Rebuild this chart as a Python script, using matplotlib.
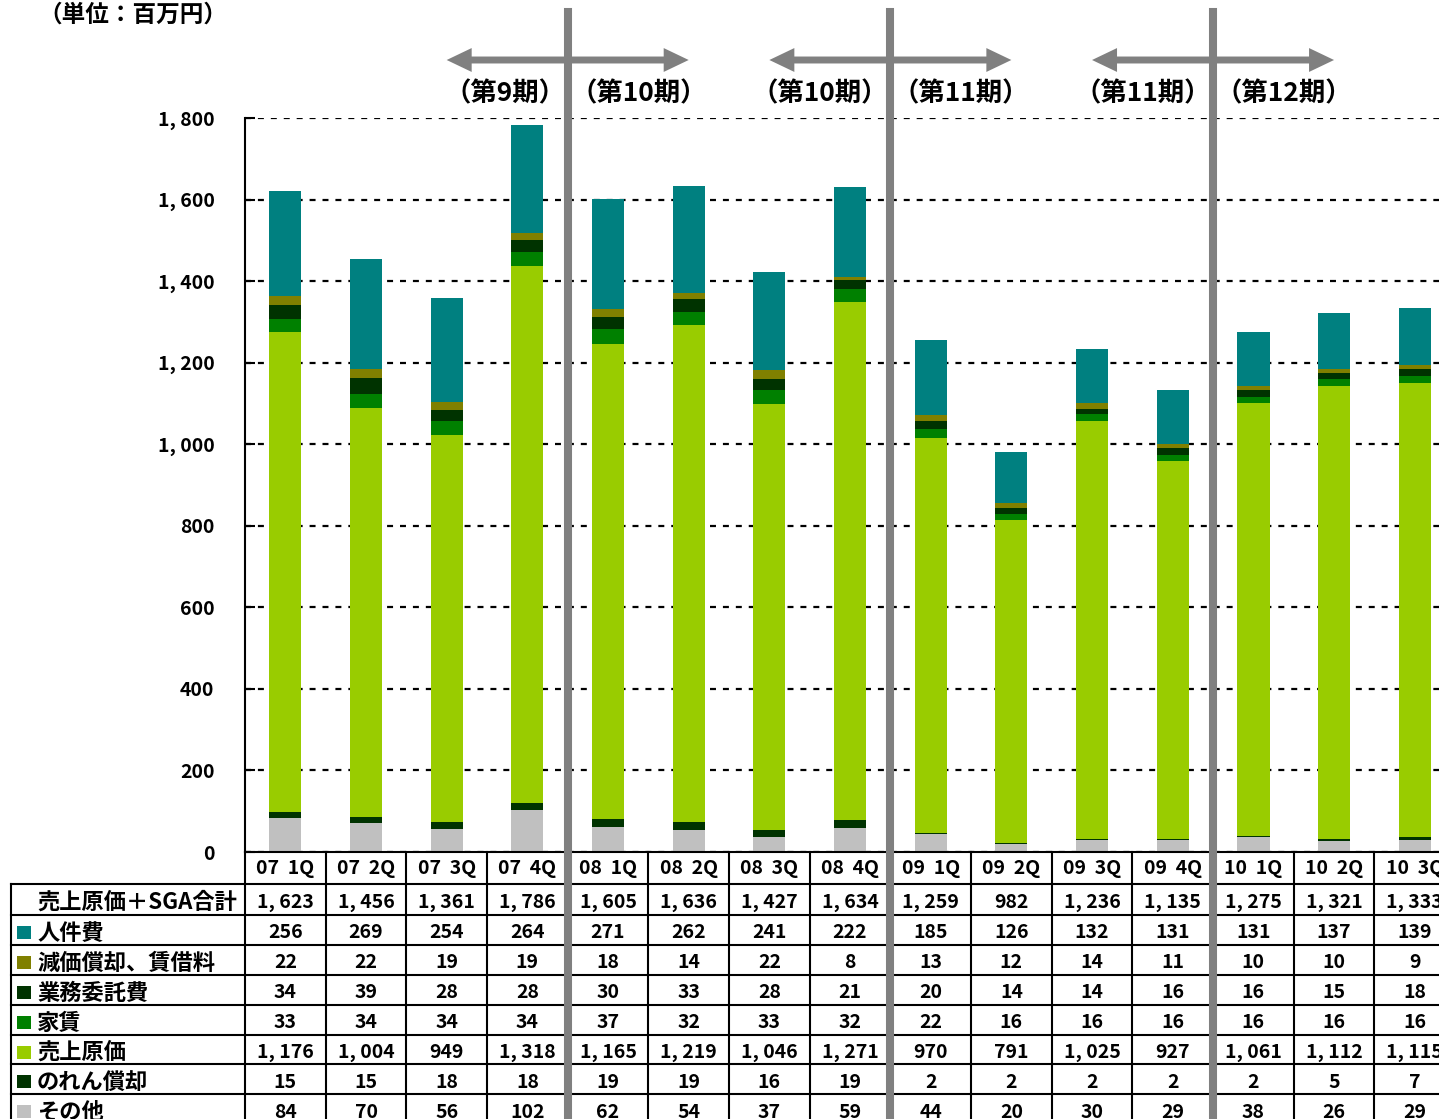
#!/usr/bin/env python3
"""Quarterly cost breakdown (売上原価 + SGA) - stacked bars with a data table underneath."""

import matplotlib
matplotlib.use("Agg")
import matplotlib.pyplot as plt
from matplotlib.lines import Line2D
from matplotlib.patches import Rectangle, FancyArrowPatch, ArrowStyle
from matplotlib.transforms import Affine2D, blended_transform_factory

plt.rcParams["font.family"] = ["Noto Sans CJK JP", "DejaVu Sans"]
plt.rcParams["font.weight"] = "bold"
plt.rcParams["lines.scale_dashes"] = False

quarters = ["07  1Q", "07  2Q", "07  3Q", "07  4Q", "08  1Q", "08  2Q", "08  3Q", "08  4Q",
            "09  1Q", "09  2Q", "09  3Q", "09  4Q", "10  1Q", "10  2Q", "10  3Q"]
totals = [1623, 1456, 1361, 1786, 1605, 1636, 1427, 1634, 1259, 982, 1236, 1135, 1275, 1321, 1333]
personnel = [256, 269, 254, 264, 271, 262, 241, 222, 185, 126, 132, 131, 131, 137, 139]
depreciation = [22, 22, 19, 19, 18, 14, 22, 8, 13, 12, 14, 11, 10, 10, 9]
outsourcing = [34, 39, 28, 28, 30, 33, 28, 21, 20, 14, 14, 16, 16, 15, 18]
rent = [33, 34, 34, 34, 37, 32, 33, 32, 22, 16, 16, 16, 16, 16, 16]
cost_of_sales = [1176, 1004, 949, 1318, 1165, 1219, 1046, 1271, 970, 791, 1025, 927, 1061, 1112, 1115]
goodwill = [15, 15, 18, 18, 19, 19, 16, 19, 2, 2, 2, 2, 2, 5, 7]
other = [84, 70, 56, 102, 62, 54, 37, 59, 44, 20, 30, 29, 38, 26, 29]

# stacking order, bottom to top
series = [
    ("その他", other, "#C0C0C0"),
    ("のれん償却", goodwill, "#003300"),
    ("売上原価", cost_of_sales, "#99CC00"),
    ("家賃", rent, "#008000"),
    ("業務委託費", outsourcing, "#003300"),
    ("減価償却、賃借料", depreciation, "#808000"),
    ("人件費", personnel, "#008080"),
]
total_label = "売上原価＋SGA合計"

# fiscal period changes after these quarter indices
period_breaks = [3, 7, 11]
period_labels = [("（第9期）", "（第10期）"), ("（第10期）", "（第11期）"), ("（第11期）", "（第12期）")]


def fmt(v):
    return f"{v:,}".replace(",", ", ")


W, H = 1439, 1119
col_px = 80.67
fig = plt.figure(figsize=(W / 100, H / 100), dpi=100)
ax = fig.add_axes([245 / W, 1 - 852 / H, col_px * len(quarters) / W, 734 / H])

# pixel coords (origin top-left) -> figure
pxT = Affine2D().scale(1 / W, -1 / H).translate(0, 1) + fig.transFigure
colT = blended_transform_factory(ax.transData, pxT)

x = list(range(len(quarters)))
bottom = [0] * len(quarters)
for name, vals, color in series:
    ax.bar(x, vals, width=0.4, bottom=bottom, color=color, linewidth=0, zorder=2)
    bottom = [b + v for b, v in zip(bottom, vals)]

ax.set_xlim(-0.5, len(quarters) - 0.5)
ax.set_ylim(0, 1800)
ticks = list(range(0, 1801, 200))
ax.set_yticks(ticks)
ax.set_yticklabels([fmt(t) for t in ticks], fontsize=14, fontweight="bold")
ax.tick_params(axis="y", direction="in", length=7, width=1.5, pad=22)
ax.set_xticks([])
ax.set_axisbelow(True)
ax.yaxis.grid(True, color="black", linewidth=1.6, linestyle=(0, (4.3, 5.0)))
for s in ("top", "right"):
    ax.spines[s].set_visible(False)
ax.spines["left"].set_linewidth(1.5)
ax.spines["bottom"].set_linewidth(1.5)

# ---- data table under the chart ----
row_edges = [884, 915, 945, 975, 1005, 1035, 1064, 1094, 1124]
lw_tab = 1.5
for i in range(len(quarters) + 1):
    fig.add_artist(Line2D([i - 0.5, i - 0.5], [852, H], transform=colT, color="black", lw=lw_tab))
fig.add_artist(Line2D([11, 11], [884, H], transform=pxT, color="black", lw=lw_tab))
for y in row_edges[:-1]:
    fig.add_artist(Line2D([11, W + 50], [y, y], transform=pxT, color="black", lw=lw_tab))

for i, q in enumerate(quarters):
    fig.text(i, 869, q, transform=colT, ha="center", va="center", fontsize=14, fontweight="bold")

rows = [(total_label, totals, None)] + [(n, v, c) for n, v, c in reversed(series)]
for r, (name, vals, color) in enumerate(rows):
    yc = (row_edges[r] + row_edges[r + 1]) / 2 + 3
    if color is not None:
        fig.add_artist(Rectangle((17, yc + 6), 14, -13, transform=pxT, color=color, lw=0))
    fig.text(37, yc, name, transform=pxT, ha="left", va="center", fontsize=16, fontweight="bold")
    for i, v in enumerate(vals):
        fig.text(i, yc, fmt(v), transform=colT, ha="center", va="center",
                 fontsize=14, fontweight="bold")

# ---- fiscal period separators, arrows and labels ----
arrow_style = ArrowStyle.Simple(head_length=0.9, head_width=0.86, tail_width=0.25)
for b, (left_lab, right_lab) in zip(period_breaks, period_labels):
    xb = b + 0.5
    fig.add_artist(Line2D([xb, xb], [12, H], transform=colT, color="#808080", lw=5.8, zorder=10))
    for end in (xb - 1.5, xb + 1.5):
        fig.add_artist(FancyArrowPatch((xb, 60), (end, 60), transform=colT,
                                       arrowstyle=arrow_style, mutation_scale=20,
                                       shrinkA=0, shrinkB=0, color="#808080", lw=0, zorder=9))
    fig.text(xb - 0.03, 94, left_lab, transform=colT, ha="right", va="center",
             fontsize=19, fontweight="bold")
    fig.text(xb + 0.03, 94, right_lab, transform=colT, ha="left", va="center",
             fontsize=19, fontweight="bold")

fig.text(38, 15, "（単位：百万円）", transform=pxT, ha="left", va="center",
         fontsize=17, fontweight="bold")

fig.savefig("out.png", dpi=100)
